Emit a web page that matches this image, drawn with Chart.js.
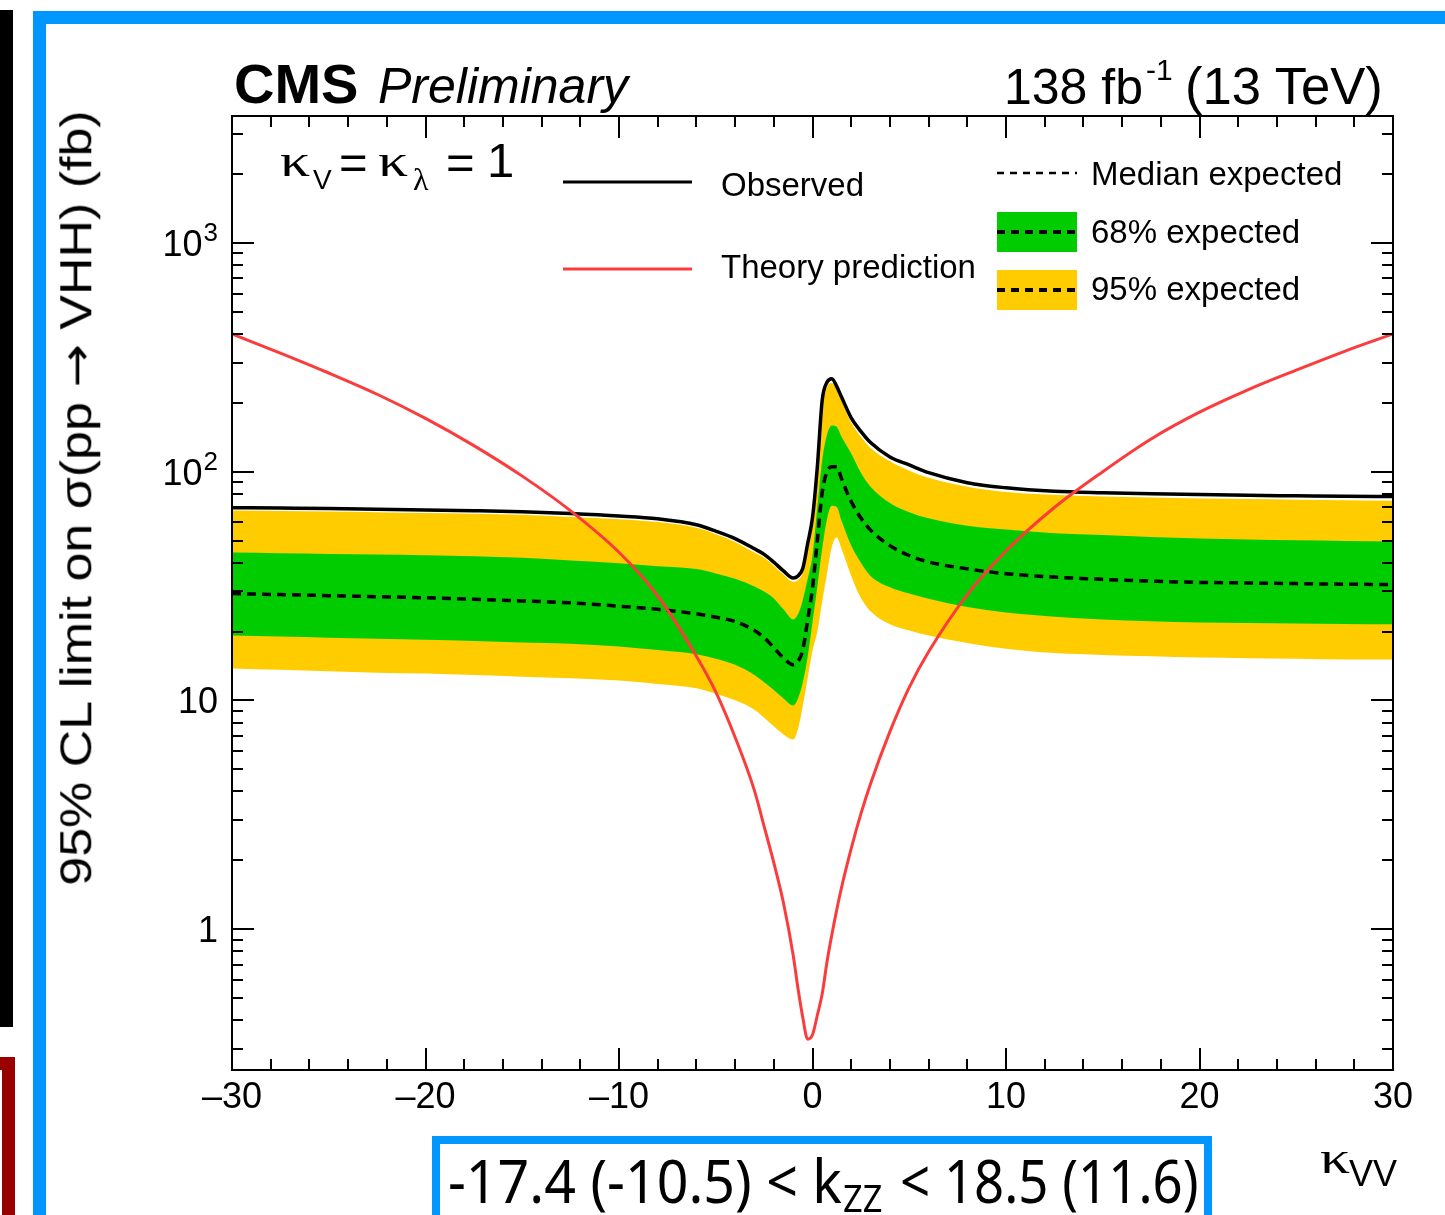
<!DOCTYPE html>
<html>
<head>
<meta charset="utf-8">
<script src="https://cdn.jsdelivr.net/npm/chart.js@4.4.1/dist/chart.umd.min.js"></script>
<style>
html, body { margin: 0; padding: 0; background: #fff; }
#wrap { position: relative; width: 1445px; height: 1215px; overflow: hidden; background: #fff; color: #000; }
#cv { position: absolute; left: 0; top: 0; }
.t { position: absolute; line-height: 1; white-space: nowrap; }
</style>
</head>
<body>
<div id="wrap">
  <div style="position:absolute;left:0;top:10px;width:13px;height:1017px;background:#000;"></div>
  <div style="position:absolute;left:-100px;top:1057px;width:115px;height:220px;border:13px solid #990000;box-sizing:border-box;"></div>
  <div style="position:absolute;left:33px;top:11px;width:1500px;height:1300px;border:13px solid #0096ff;box-sizing:border-box;"></div>
  <canvas id="cv" width="1445" height="1215"></canvas>
  <div style="position:absolute;left:432px;top:1136px;width:780px;height:110px;border:8px solid #0096ff;box-sizing:border-box;"></div>
</div>
<script>
// kappa_VV scan points
const kappa = [-30, -27.5, -25, -22.5, -20, -17.5, -15, -12.5, -10, -8, -6, -5, -4, -3, -2.5, -2, -1.5, -1, -0.75, -0.5, -0.25,
  0, 0.25, 0.5, 0.75, 1, 1.25, 1.5, 2, 2.5, 3, 4, 5, 6, 8, 10, 12.5, 15, 17.5, 20, 22.5, 25, 27.5, 30];

// limits in fb
const observed = [69.6, 69.3, 69.0, 68.5, 68.0, 67.5, 66.8, 65.6, 64.0, 62.2, 58.6, 55.0, 51.0, 46.0, 43.5, 40.2, 36.8, 34.3, 35.0, 37.8, 48.5,
  63, 105, 205, 246, 255, 236, 212, 172, 150, 134, 116, 107, 99, 89.5, 85, 82, 80.8, 80, 79.4, 78.8, 78.4, 78, 77.8];
const median = [29.3, 29.0, 28.7, 28.4, 28.1, 27.7, 27.2, 26.7, 25.8, 25.0, 23.9, 23.1, 22.1, 20.2, 18.8, 17.0, 15.3, 14.3, 14.8, 16.7, 22.5,
  31, 50, 81, 100, 105, 105, 93, 74, 62.7, 55.5, 47.5, 43, 40.3, 37.6, 35.8, 34.6, 33.8, 33.2, 32.8, 32.6, 32.4, 32.2, 32.1];
const band68Up = [44.3, 44.0, 43.7, 43.4, 43.1, 42.7, 42.0, 40.9, 39.8, 38.6, 37.5, 35.9, 34.0, 31.5, 29.9, 27.9, 25.0, 22.6, 23.8, 27.5, 34,
  43, 70, 112, 145, 159, 157, 142, 120, 99, 86, 73, 66.5, 62.5, 58, 55.8, 53.8, 52.8, 51.8, 51, 50.5, 50.1, 49.8, 49.5];
const band68Down = [19.2, 19.0, 18.8, 18.6, 18.4, 18.2, 17.9, 17.7, 17.2, 16.6, 15.9, 15.2, 14.3, 12.9, 12.0, 11.1, 10.2, 9.5, 10.2, 12.0, 15.5,
  22, 31.5, 46, 62, 71, 70, 61, 47.5, 40, 35, 31.2, 29.3, 27.8, 25.6, 24.2, 23.2, 22.6, 22.2, 21.9, 21.8, 21.7, 21.6, 21.5];
const band95Up = [67.6, 67.3, 67.0, 66.5, 66.0, 65.5, 64.8, 63.4, 62.0, 60.2, 56.8, 53.3, 49.3, 44.3, 42.0, 38.8, 35.5, 33.0, 33.6, 36.3, 46.5,
  60, 100, 195, 234, 245, 228, 204, 164, 142, 127, 111, 101, 94, 86, 81.5, 79.2, 77.9, 77.1, 76.4, 75.9, 75.4, 75.0, 74.7];
const band95Down = [13.8, 13.6, 13.4, 13.2, 13.1, 12.9, 12.7, 12.5, 12.2, 11.8, 11.3, 10.7, 10.0, 9.1, 8.4, 7.7, 7.1, 6.75, 7.5, 9.5, 12.5,
  16.5, 20, 27, 36, 47, 51.5, 46, 35, 28, 24.5, 21.5, 20.2, 19.2, 17.8, 16.8, 16.1, 15.8, 15.6, 15.4, 15.3, 15.2, 15.1, 15.1];
const theory = [400, 330, 270, 218, 171, 130, 95.6, 67.4, 44.4, 28.6, 15.6, 10.9, 6.9, 4.03, 2.81, 1.95, 1.30, 0.77, 0.55, 0.41, 0.33,
  0.345, 0.42, 0.52, 0.72, 0.945, 1.21, 1.52, 2.25, 3.19, 4.32, 7.3, 11.4, 16.3, 29.0, 45.0, 69.7, 100, 139, 182, 228, 278, 336, 400];

// axis ticks
const xTicks = [-30, -20, -10, 0, 10, 20, 30];
const yDecades = [1, 10, 100, 1000];
const yLabels = [['1', ''], ['10', ''], ['10', '2'], ['10', '3']];

const SANS = '"Liberation Sans", Arial, Helvetica, sans-serif';
const SERIF = '"Liberation Serif", "Times New Roman", serif';
const NOTO = '"Noto Sans", "Open Sans", sans-serif';
const fontShift = { sans: [SANS, 0.8465], serif: [SERIF, 0.8375], noto: [NOTO, 0.888] };

const YELLOW = '#ffcc00';
const GREEN = '#00cc00';
const RED = '#fa3c3c';

function pts(vals) {
    return kappa.map(function (k, i) { return { x: k, y: vals[i] }; });
}

const frame = {
    id: 'frame',
    afterDraw: function (chart) {
        const ctx = chart.ctx;
        const a = chart.chartArea;
        const xs = chart.scales.x;
        const ys = chart.scales.y;
        ctx.save();
        ctx.strokeStyle = '#000';
        ctx.lineWidth = 2;
        ctx.strokeRect(a.left, a.top, a.right - a.left, a.bottom - a.top);
        ctx.beginPath();
        for (let v = xs.min; v <= xs.max; v += 2) {
            const px = Math.round(xs.getPixelForValue(v));
            const len = xTicks.indexOf(v) >= 0 ? 22 : 11;
            ctx.moveTo(px, a.bottom); ctx.lineTo(px, a.bottom - len);
            ctx.moveTo(px, a.top); ctx.lineTo(px, a.top + len);
        }
        for (let d = -1; d <= 3; d++) {
            for (let m = 1; m <= 9; m++) {
                const v = m * Math.pow(10, d);
                if (v < ys.min || v > ys.max) continue;
                const py = Math.round(ys.getPixelForValue(v));
                const len = m === 1 ? 22 : 11;
                ctx.moveTo(a.left, py); ctx.lineTo(a.left + len, py);
                ctx.moveTo(a.right, py); ctx.lineTo(a.right - len, py);
            }
        }
        ctx.stroke();

        // y tick labels with exponents
        ctx.fillStyle = '#000';
        ctx.textBaseline = 'alphabetic';
        ctx.textAlign = 'right';
        yDecades.forEach(function (v, i) {
            const py = ys.getPixelForValue(v);
            const base = yLabels[i][0];
            const sup = yLabels[i][1];
            let right = a.left - 14;
            if (sup) {
                ctx.font = '26px ' + SANS;
                ctx.fillText(sup, right, py - 2);
                right -= ctx.measureText(sup).width + 1;
            }
            ctx.font = '36px ' + SANS;
            ctx.fillText(base, right, py + 13);
        });

        // legend samples
        ctx.lineWidth = 3;
        ctx.strokeStyle = '#000';
        ctx.beginPath(); ctx.moveTo(563, 182); ctx.lineTo(692, 182); ctx.stroke();
        ctx.strokeStyle = RED;
        ctx.beginPath(); ctx.moveTo(563, 269); ctx.lineTo(692, 269); ctx.stroke();
        ctx.fillStyle = GREEN; ctx.fillRect(997, 212, 80, 40);
        ctx.fillStyle = YELLOW; ctx.fillRect(997, 270, 80, 40);
        ctx.strokeStyle = '#000';
        ctx.lineWidth = 2.5;
        ctx.setLineDash([7, 6]);
        ctx.beginPath(); ctx.moveTo(997, 173); ctx.lineTo(1077, 173); ctx.stroke();
        ctx.lineWidth = 4;
        ctx.setLineDash([8, 6]);
        ctx.beginPath(); ctx.moveTo(997, 232); ctx.lineTo(1077, 232); ctx.stroke();
        ctx.beginPath(); ctx.moveTo(997, 290); ctx.lineTo(1077, 290); ctx.stroke();
        ctx.restore();
    }
};

const chart = new Chart(document.getElementById('cv'), {
    type: 'line',
    data: {
        datasets: [
            { label: '95% low', data: pts(band95Down), borderWidth: 0, borderColor: 'transparent', fill: false, order: 7 },
            { label: '95% expected', data: pts(band95Up), borderWidth: 0, borderColor: 'transparent', backgroundColor: YELLOW, fill: 0, order: 6 },
            { label: '68% low', data: pts(band68Down), borderWidth: 0, borderColor: 'transparent', fill: false, order: 5 },
            { label: '68% expected', data: pts(band68Up), borderWidth: 0, borderColor: 'transparent', backgroundColor: GREEN, fill: 2, order: 4 },
            { label: 'Median expected', data: pts(median), borderColor: '#000', borderWidth: 3.5, borderDash: [9, 6], fill: false, order: 2 },
            { label: 'Observed', data: pts(observed), borderColor: '#000', borderWidth: 3.5, fill: false, order: 1 },
            { label: 'Theory prediction', data: pts(theory), borderColor: RED, borderWidth: 3, fill: false, order: 0 }
        ]
    },
    options: {
        responsive: false,
        animation: false,
        events: [],
        layout: { padding: { left: 0, right: 52, top: 116, bottom: 0 } },
        elements: {
            point: { radius: 0 },
            line: { cubicInterpolationMode: 'monotone' }
        },
        plugins: {
            legend: { display: false },
            tooltip: { enabled: false },
            filler: { propagate: false }
        },
        scales: {
            x: {
                type: 'linear',
                min: -30,
                max: 30,
                grid: { display: false, drawTicks: false },
                border: { display: false },
                ticks: {
                    stepSize: 10,
                    maxRotation: 0,
                    autoSkip: false,
                    padding: 6,
                    color: '#000',
                    font: { family: SANS, size: 36 },
                    callback: function (v) { return v < 0 ? '\u2013' + (-v) : String(v); }
                },
                afterFit: function (s) { s.height = 145; }
            },
            y: {
                type: 'logarithmic',
                min: 0.242,
                max: 3590,
                grid: { display: false, drawTicks: false },
                border: { display: false },
                ticks: { display: false },
                afterFit: function (s) { s.width = 232; }
            }
        }
    },
    plugins: [frame]
});

// text overlays
const wrap = document.getElementById('wrap');
function put(text, x, base, size, kind, css, align, html) {
    const d = document.createElement('div');
    d.className = 't';
    if (html) d.innerHTML = text; else d.textContent = text;
    d.style.fontFamily = fontShift[kind][0];
    d.style.fontSize = size + 'px';
    d.style.top = (base - fontShift[kind][1] * size) + 'px';
    if (css) d.style.cssText += css;
    wrap.appendChild(d);
    d.style.left = (align === 'right' ? x - d.offsetWidth : x) + 'px';
    return d;
}
function fitWidth(d, w) {
    d.style.transformOrigin = '0 0';
    d.style.transform = 'scaleX(' + (w / d.offsetWidth).toFixed(3) + ')';
}
const wide = 'transform:scaleX(1.3);transform-origin:0 0;';

put('CMS', 234, 103, 56, 'sans', 'font-weight:bold;');
put('Preliminary', 378, 103, 50, 'sans', 'font-style:italic;');
put('138 fb', 1004, 104, 50, 'sans');
put('-1', 1146, 80, 30, 'sans');
fitWidth(put('(13 TeV)', 1185, 104, 51, 'sans'), 198);

put('\u03ba', 280, 177, 46, 'serif', wide);
put('V', 313, 190, 28, 'sans');
put('=', 339, 179, 49, 'sans');
put('\u03ba', 378, 177, 46, 'serif', wide);
put('\u03bb', 413, 190, 32, 'serif');
put('=', 446, 179, 49, 'sans');
put('1', 487, 177, 49, 'sans');

put('Observed', 721, 196, 33, 'sans');
put('Theory prediction', 721, 278, 33, 'sans');
put('Median expected', 1091, 185, 33, 'sans');
put('68% expected', 1091, 243, 33, 'sans');
put('95% expected', 1091, 300, 33, 'sans');

put('\u03ba', 1320, 1174, 46, 'serif', wide);
put('VV', 1349, 1186, 36, 'sans');

// rotated y title, stretched to the axis length of the reference
const yt = put('95% CL limit on \u03c3(pp <span style="font-family:\'DejaVu Sans\'">\u2192</span> VHH) (fb)', 0, 37, 44, 'sans', '', '', true);
const ytw = yt.offsetWidth;
yt.style.left = (76 - ytw / 2) + 'px';
yt.style.top = (498 - 22) + 'px';
yt.style.transformOrigin = '50% 50%';
yt.style.transform = 'rotate(-90deg) scaleX(' + (776 / ytw).toFixed(3) + ')';

// limit summary in the blue box
fitWidth(put('-17.4 (-10.5) < k', 448, 1203, 60, 'noto'), 394);
fitWidth(put('ZZ', 843, 1212, 38, 'noto'), 39);
fitWidth(put('< 18.5 (11.6)', 900, 1203, 60, 'noto'), 299);
</script>
</body>
</html>
